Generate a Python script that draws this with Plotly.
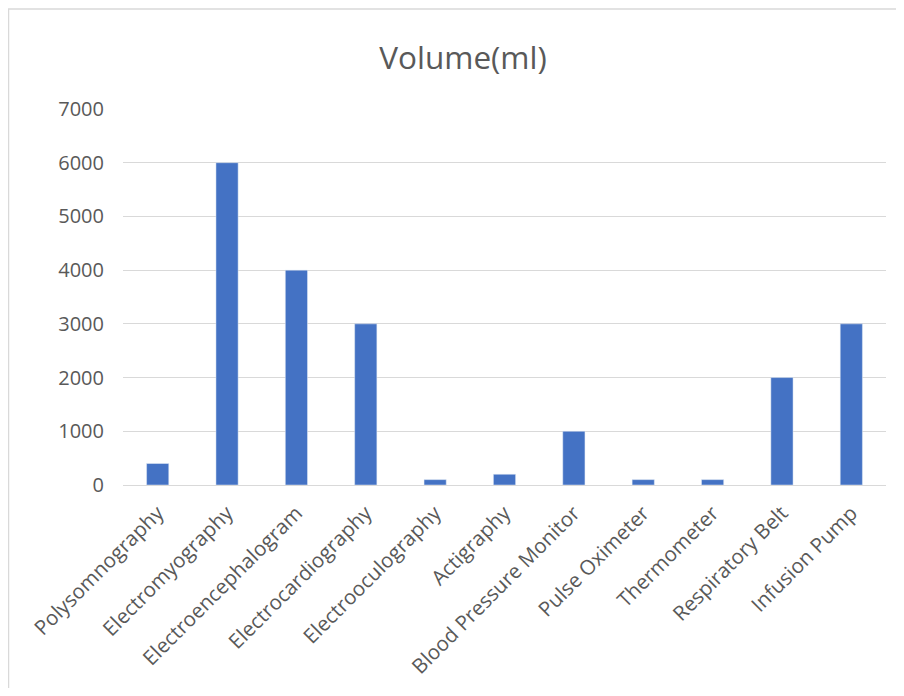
import plotly.graph_objects as go

categories = ["Polysomnography", "Electromyography", "Electroencephalogram", "Electrocardiography",
              "Electrooculography", "Actigraphy", "Blood Pressure Monitor", "Pulse Oximeter",
              "Thermometer", "Respiratory Belt", "Infusion Pump"]
volume_ml = [400, 6000, 4000, 3000, 100, 200, 1000, 100, 100, 2000, 3000]
y_ticks = [0, 1000, 2000, 3000, 4000, 5000, 6000, 7000]

W, H = 888, 680
L, T = 115, 101
pw, ph = 763, 376
R, B = W - L - pw, H - T - ph

def px(fx):
    return (fx - L) / pw

def py(fy):
    return (T + ph - fy) / ph

fig = go.Figure(go.Bar(x=categories, y=volume_ml, marker_color="#4472C4", width=0.32))

fig.update_layout(
    width=W, height=H,
    margin=dict(l=L, r=R, t=T, b=B, autoexpand=False),
    paper_bgcolor="white", plot_bgcolor="white",
    font=dict(family="Open Sans, Liberation Sans, sans-serif", color="#595959", size=20),
    title=dict(text="Volume(ml)", x=455 / W, xanchor="center", y=1 - 50 / H, yanchor="middle",
               font=dict(size=31.5, color="#595959")),
    showlegend=False,
    xaxis=dict(tickangle=-45, showline=True, linecolor="#d9d9d9", ticks="", tickfont=dict(size=20.5),
               ticklabelstandoff=7, automargin=False),
    yaxis=dict(range=[0, 7000], tickvals=y_ticks, showgrid=True, gridcolor="#d9d9d9",
               zeroline=False, ticks="", ticklabelstandoff=18, tickfont=dict(size=20),
               automargin=False),
    shapes=[
        dict(type="line", xref="paper", yref="paper", x0=px(0), x1=px(W), y0=py(1), y1=py(1),
             line=dict(color="#d9d9d9", width=1.5)),
        dict(type="line", xref="paper", yref="paper", x0=px(0.5), x1=px(0.5), y0=py(1), y1=py(H),
             line=dict(color="#d9d9d9", width=1.5)),
    ],
)

fig.write_html("out.html")
